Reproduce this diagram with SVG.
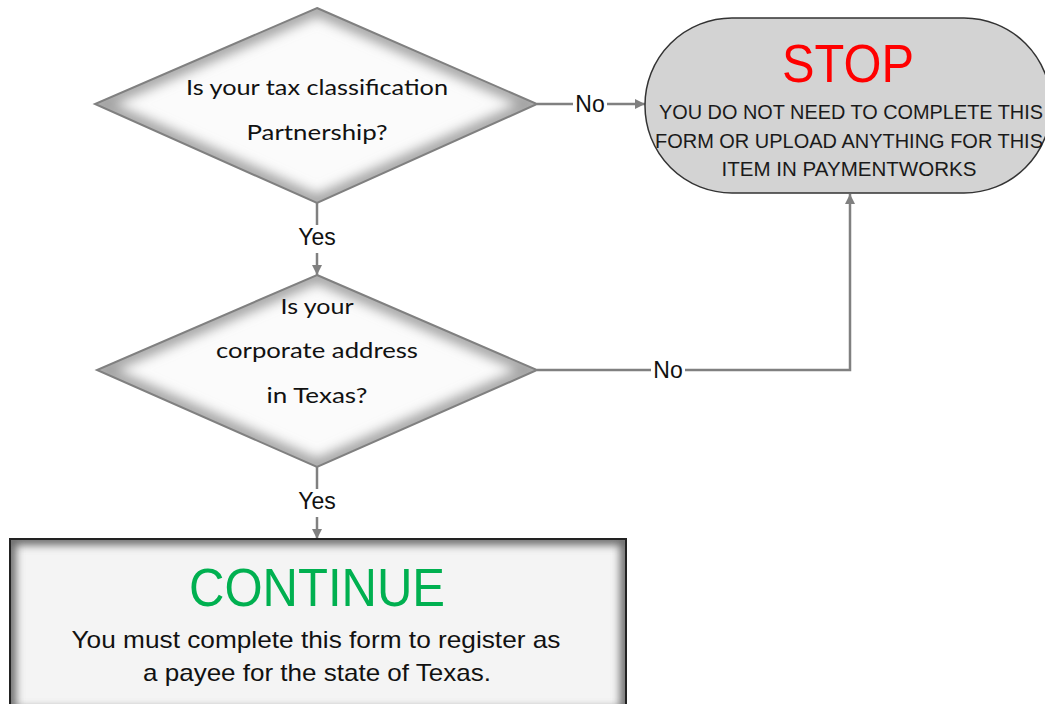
<svg xmlns="http://www.w3.org/2000/svg" width="1045" height="704" viewBox="0 0 1045 704">
<style>
.q{font-family:Lato,"Open Sans","Liberation Sans",sans-serif;font-size:22px;fill:#111;text-anchor:middle}
.lbl{font-family:"Liberation Sans Narrow","Liberation Sans",sans-serif;font-size:23px;fill:#111;text-anchor:middle}
.cond{font-family:"Liberation Sans Narrow","Liberation Sans",sans-serif;fill:#1a1a1a;text-anchor:middle}
.conn{fill:none;stroke:#808080;stroke-width:2.5}
.diaFill{fill:#fbfbfb}
.diaGlow{fill:none;stroke:#a4a4a4;stroke-width:16}
.diaEdge{fill:none;stroke:#808080;stroke-width:2}
</style>
<defs>
<marker id="arr" viewBox="0 0 10 10" refX="10" refY="5" markerWidth="10" markerHeight="10" orient="auto" markerUnits="userSpaceOnUse">
<path d="M0,0 L10,5 L0,10 z" fill="#808080"/>
</marker>
<filter id="blurD" x="-10%" y="-10%" width="120%" height="120%"><feGaussianBlur stdDeviation="6"/></filter>
<filter id="blurB" x="-10%" y="-20%" width="120%" height="140%"><feGaussianBlur stdDeviation="4"/></filter>
<clipPath id="c1"><polygon points="317,8 537,104 317,203 95,104"/></clipPath>
<clipPath id="c2"><polygon points="317,275 537,370 317,467 97,370"/></clipPath>
<clipPath id="cb"><rect x="10" y="539" width="616" height="175"/></clipPath>
</defs>
<rect width="1045" height="704" fill="#fff"/>

<g id="connectors">
<line class="conn" x1="537" y1="104" x2="573" y2="104"/>
<line class="conn" x1="607" y1="104" x2="645" y2="104" marker-end="url(#arr)"/>
<text class="lbl" x="590" y="112">No</text>
<line class="conn" x1="317" y1="203" x2="317" y2="225"/>
<line class="conn" x1="317" y1="253" x2="317" y2="275" marker-end="url(#arr)"/>
<text class="lbl" x="317" y="245">Yes</text>
<polyline class="conn" points="537,370 651,370"/>
<polyline class="conn" points="685,370 850,370 850,194" marker-end="url(#arr)"/>
<text class="lbl" x="668" y="378">No</text>
<line class="conn" x1="317" y1="467" x2="317" y2="489"/>
<line class="conn" x1="317" y1="517" x2="317" y2="539" marker-end="url(#arr)"/>
<text class="lbl" x="317" y="509">Yes</text>
</g>

<g id="q1">
<polygon class="diaFill" points="317,8 537,104 317,203 95,104"/>
<g clip-path="url(#c1)"><polygon class="diaGlow" points="317,8 537,104 317,203 95,104" filter="url(#blurD)"/></g>
<polygon class="diaEdge" points="317,8 537,104 317,203 95,104"/>
<text class="q" x="317" y="95" textLength="262" lengthAdjust="spacingAndGlyphs">Is your tax classification</text>
<text class="q" x="317" y="140" textLength="141" lengthAdjust="spacingAndGlyphs">Partnership?</text>
</g>

<g id="q2">
<polygon class="diaFill" points="317,275 537,370 317,467 97,370"/>
<g clip-path="url(#c2)"><polygon class="diaGlow" points="317,275 537,370 317,467 97,370" filter="url(#blurD)"/></g>
<polygon class="diaEdge" points="317,275 537,370 317,467 97,370"/>
<text class="q" x="317" y="314" textLength="73" lengthAdjust="spacingAndGlyphs">Is your</text>
<text class="q" x="317" y="358" textLength="202" lengthAdjust="spacingAndGlyphs">corporate address</text>
<text class="q" x="317" y="403" textLength="101" lengthAdjust="spacingAndGlyphs">in Texas?</text>
</g>

<g id="stop">
<rect x="645" y="18" width="406" height="175" rx="87" ry="87" fill="#d3d3d3" stroke="#333" stroke-width="1.5"/>
<text class="cond" x="848" y="82" font-size="54" style="fill:#ff0000" textLength="132" lengthAdjust="spacingAndGlyphs">STOP</text>
<text class="cond" x="851" y="119" font-size="20" textLength="384" lengthAdjust="spacingAndGlyphs">YOU DO NOT NEED TO COMPLETE THIS</text>
<text class="cond" x="849" y="148" font-size="20" textLength="388" lengthAdjust="spacingAndGlyphs">FORM OR UPLOAD ANYTHING FOR THIS</text>
<text class="cond" x="849" y="176" font-size="20" textLength="255" lengthAdjust="spacingAndGlyphs">ITEM IN PAYMENTWORKS</text>
</g>

<g id="continue">
<rect x="10" y="539" width="616" height="175" fill="#f4f4f4"/>
<g clip-path="url(#cb)"><rect x="10" y="539" width="616" height="175" fill="none" stroke="#6a6a6a" stroke-width="12" filter="url(#blurB)"/></g>
<rect x="10" y="539" width="616" height="175" fill="none" stroke="#222" stroke-width="2"/>
<text class="cond" x="317" y="606" font-size="54" style="fill:#00b050" textLength="256" lengthAdjust="spacingAndGlyphs">CONTINUE</text>
<text class="cond" x="316" y="648" font-size="24" style="fill:#111" textLength="489" lengthAdjust="spacingAndGlyphs">You must complete this form to register as</text>
<text class="cond" x="317" y="681" font-size="24" style="fill:#111" textLength="348" lengthAdjust="spacingAndGlyphs">a payee for the state of Texas.</text>
</g>
</svg>
